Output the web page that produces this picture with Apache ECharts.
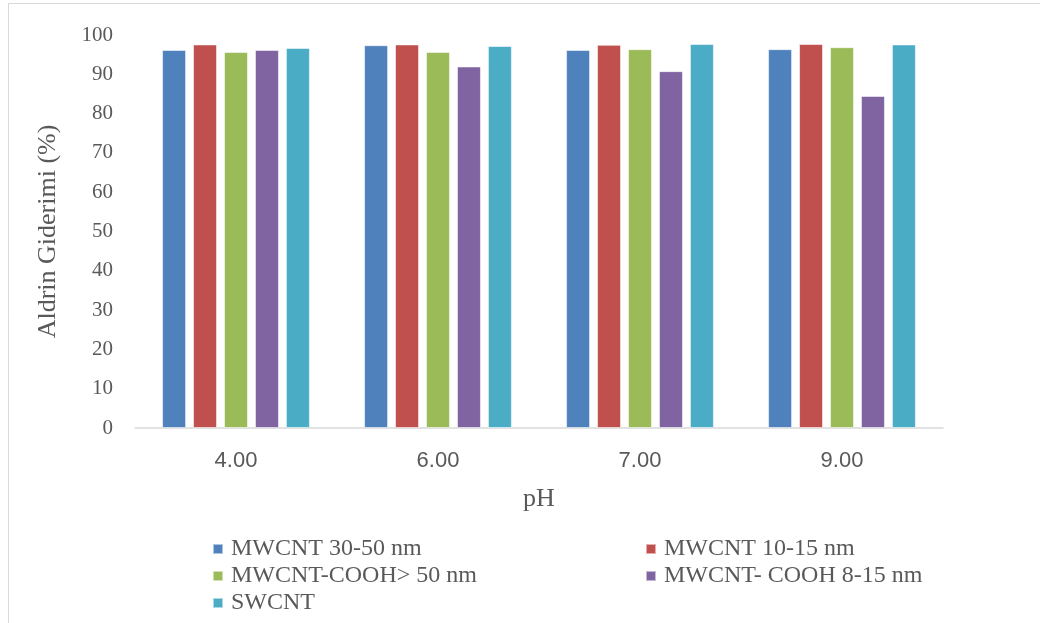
<!DOCTYPE html>
<html>
<head>
<meta charset="utf-8">
<script src="https://cdn.jsdelivr.net/npm/echarts@6/dist/echarts.min.js"></script>
<style>
  html, body { margin: 0; padding: 0; background: #fff; }
  #chart { width: 1040px; height: 623px; }
</style>
</head>
<body>
<div id="chart"></div>
<script>
// pH values tested
const categories = ['4.00', '6.00', '7.00', '9.00'];

// Aldrin removal (%) per adsorbent
const seriesNames = [
  'MWCNT 30-50 nm',
  'MWCNT 10-15 nm',
  'MWCNT-COOH> 50 nm',
  'MWCNT- COOH 8-15 nm',
  'SWCNT'
];
const mwcnt3050 = [96.2, 97.4, 96.2, 96.4];
const mwcnt1015 = [97.6, 97.6, 97.5, 97.7];
const mwcntCooh50 = [95.7, 95.7, 96.4, 96.9];
const mwcntCooh815 = [96.2, 92.0, 90.8, 84.5];
const swcnt = [96.7, 97.2, 97.7, 97.6];

const yTicks = [0, 10, 20, 30, 40, 50, 60, 70, 80, 90, 100];

const colors = ['#4F81BD', '#C0504D', '#9BBB59', '#8064A2', '#4BACC6'];
const values = [mwcnt3050, mwcnt1015, mwcntCooh50, mwcntCooh815, swcnt];

const serif = '"Liberation Serif", "DejaVu Serif", serif';
const textColor = '#595959';

const chart = echarts.init(document.getElementById('chart'), null, { renderer: 'canvas' });

const series = seriesNames.map((name, i) => ({
  name: name,
  type: 'bar',
  data: values[i],
  barWidth: 24,
  barGap: '29%',
  itemStyle: {
    color: colors[i],
    borderColor: 'rgba(255,255,255,0.55)',
    borderWidth: 1
  }
}));

// legend entries laid out in two columns
const legendPos = [
  { left: 212, top: 537 },
  { left: 645, top: 537 },
  { left: 212, top: 564 },
  { left: 645, top: 564 },
  { left: 212, top: 591 }
];
const legends = seriesNames.map((name, i) => ({
  data: [name],
  left: legendPos[i].left,
  top: legendPos[i].top,
  itemWidth: 10,
  itemHeight: 10,
  icon: 'rect',
  selectedMode: false,
  padding: 0,
  textStyle: { fontFamily: serif, fontSize: 24, color: textColor, padding: [0, 0, 0, 3] }
}));

chart.setOption({
  backgroundColor: '#ffffff',
  animation: false,
  color: colors,
  graphic: [{
    type: 'rect',
    shape: { x: 8.5, y: 3.5, width: 1100, height: 700 },
    style: { fill: 'none', stroke: '#D9D9D9', lineWidth: 1 },
    silent: true
  }],
  legend: legends,
  grid: { left: 135, right: 97, top: 35, bottom: 195, containLabel: false },
  xAxis: {
    type: 'category',
    data: categories,
    axisLine: { lineStyle: { color: '#D9D9D9', width: 1.5 } },
    axisTick: { show: false },
    axisLabel: {
      margin: 22,
      fontFamily: '"Liberation Sans Narrow", "Liberation Sans", sans-serif',
      fontSize: 22,
      color: textColor
    },
    name: 'pH',
    nameLocation: 'middle',
    nameGap: 58,
    nameTextStyle: { fontFamily: serif, fontSize: 26, color: textColor }
  },
  yAxis: {
    type: 'value',
    min: yTicks[0],
    max: yTicks[yTicks.length - 1],
    interval: 10,
    splitLine: { show: false },
    axisLine: { show: false },
    axisTick: { show: false },
    axisLabel: {
      margin: 22,
      fontFamily: serif,
      fontSize: 21,
      color: textColor
    },
    name: 'Aldrin Giderimi (%)',
    nameLocation: 'middle',
    nameGap: 74,
    nameTextStyle: { fontFamily: serif, fontSize: 26, color: textColor }
  },
  series: series
});
</script>
</body>
</html>
